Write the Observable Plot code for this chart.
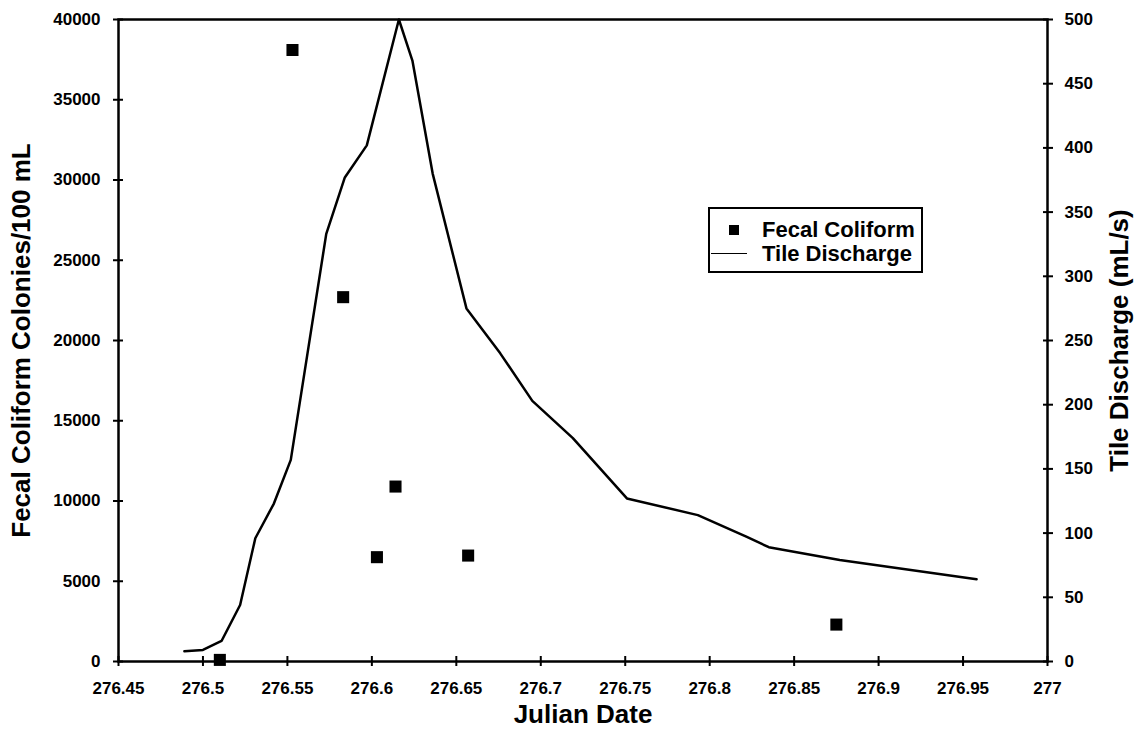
<!DOCTYPE html>
<html>
<head>
<meta charset="utf-8">
<script src="https://cdn.jsdelivr.net/npm/d3@7"></script>
<script src="https://cdn.jsdelivr.net/npm/@observablehq/plot@0.6"></script>
<style>
  html, body { margin: 0; padding: 0; background: #fff; }
  #wrap { position: relative; width: 1144px; height: 738px; font-family: "Liberation Sans", Arial, sans-serif; }
  #legend { position: absolute; left: 708px; top: 207px; width: 211px; height: 62px; border: 2px solid #000; background: #fff;
            font-weight: bold; font-size: 22px; color: #000; }
  .row { position: absolute; left: 0; height: 24px; line-height: 24px; white-space: nowrap; }
  .row span.t { position: absolute; left: 52px; top: 0; }
  .sq { position: absolute; left: 19px; top: 7px; width: 10px; height: 10px; background: #000; }
  .ln { position: absolute; left: 1px; top: 11px; width: 36px; height: 0; border-top: 1.6px solid #000; }
</style>
</head>
<body>
<div id="wrap"></div>
<script>
// Tile discharge (mL/s) vs Julian date
const dischargeDate = [276.489, 276.500, 276.511, 276.522, 276.531, 276.542, 276.552, 276.573, 276.584, 276.597, 276.616, 276.624, 276.636, 276.656, 276.676, 276.695, 276.719, 276.751, 276.793, 276.822, 276.835, 276.877, 276.958];
const dischargeValue = [8, 9, 16, 44, 96, 123, 157, 333, 377, 402, 500, 468, 380, 275, 240, 203, 174, 127, 114, 97, 89, 79, 64];
// Fecal coliform colonies/100 mL
const coliformDate = [276.510, 276.553, 276.583, 276.603, 276.614, 276.657, 276.875];
const coliformValue = [100, 38100, 22700, 6500, 10900, 6600, 2300];
// Axis ticks
const xTicks = [276.45, 276.5, 276.55, 276.6, 276.65, 276.7, 276.75, 276.8, 276.85, 276.9, 276.95, 277];
const yLeftTicks = [0, 5000, 10000, 15000, 20000, 25000, 30000, 35000, 40000];
const yRightTicks = [0, 50, 100, 150, 200, 250, 300, 350, 400, 450, 500];
const ratio = 40000 / 500; // right axis (0-500) mapped onto left axis (0-40000)

const discharge = dischargeDate.map((d, i) => ({date: d, value: dischargeValue[i]}));
const coliform = coliformDate.map((d, i) => ({date: d, value: coliformValue[i]}));

const font = "'Liberation Sans', Arial, sans-serif";

const chart = Plot.plot({
  width: 1144,
  height: 738,
  marginTop: 19,
  marginBottom: 77,
  marginLeft: 118,
  marginRight: 97,
  style: {fontFamily: font, fontSize: "17px", fontWeight: "bold", color: "#000", background: "#fff", overflow: "visible"},
  x: {domain: [276.45, 277], label: null},
  y: {domain: [0, 40000], label: null},
  marks: [
    Plot.frame({stroke: "#000", strokeWidth: 2.5}),
    // tick marks crossing the axes
    Plot.axisY(yLeftTicks, {anchor: "left", tickSize: 10, dx: 5, tickFormat: () => "", strokeWidth: 2, label: null}),
    Plot.axisY(yLeftTicks, {anchor: "left", tickSize: 0, tickPadding: 18, tickFormat: d => String(d), label: null, fontSize: 17}),
    Plot.axisY(yRightTicks.map(v => v * ratio), {anchor: "right", tickSize: 10, dx: -5, tickFormat: () => "", strokeWidth: 2, label: null}),
    Plot.axisY(yRightTicks.map(v => v * ratio), {anchor: "right", tickSize: 0, tickPadding: 17, tickFormat: d => String(Math.round(d / ratio)), label: null, fontSize: 17}),
    Plot.axisX(xTicks, {anchor: "bottom", tickSize: 10, dy: -5, tickFormat: () => "", strokeWidth: 2, label: null}),
    Plot.axisX(xTicks, {anchor: "bottom", tickSize: 0, tickPadding: 20, tickFormat: d => String(d), label: null, fontSize: 17}),
    // data
    Plot.line(discharge, {x: "date", y: d => d.value * ratio, stroke: "#000", strokeWidth: 2.5, strokeLinejoin: "round"}),
    Plot.dot(coliform, {x: "date", y: "value", symbol: "square", r: 6.8, fill: "#000", stroke: "none"}),
    // axis titles
    Plot.text(["Fecal Coliform Colonies/100 mL"], {frameAnchor: "left", textAnchor: "middle", lineAnchor: "middle", rotate: -90, dx: -97, fontSize: 26, fontWeight: "bold"}),
    Plot.text(["Tile Discharge (mL/s)"], {frameAnchor: "right", textAnchor: "middle", lineAnchor: "middle", rotate: -90, dx: 72, fontSize: 26, fontWeight: "bold"}),
    Plot.text(["Julian Date"], {frameAnchor: "bottom", textAnchor: "middle", lineAnchor: "middle", dy: 53, fontSize: 26, fontWeight: "bold"})
  ]
});

const wrap = document.getElementById("wrap");
wrap.appendChild(chart);

const legend = document.createElement("div");
legend.id = "legend";
legend.innerHTML =
  '<div class="row" style="top:9px;width:100%"><div class="sq"></div><span class="t">Fecal Coliform</span></div>' +
  '<div class="row" style="top:33px;width:100%"><div class="ln"></div><span class="t">Tile Discharge</span></div>';
wrap.appendChild(legend);
</script>
</body>
</html>
